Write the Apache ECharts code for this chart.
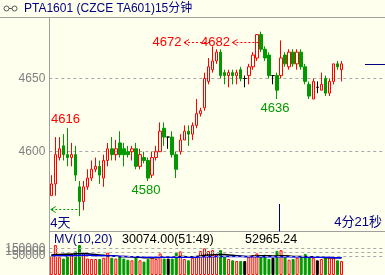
<!DOCTYPE html>
<html><head><meta charset="utf-8">
<script src="https://cdn.jsdelivr.net/npm/echarts@6/dist/echarts.min.js"></script>
<style>html,body{margin:0;padding:0;background:#FFFFEE;overflow:hidden}#c{width:385px;height:275px}</style>
</head><body><div id="c"></div>
<script>
// ---- data ----
const slotCount = 83; // 73 bars + empty space on the right
const categories = Array.from({length: slotCount}, (_, i) => String(i + 1));
const opens = [4570,4578,4596,4604,4598,4596,4598,4576,4566,4576,4582,4588,4590,4582,4594,4602,4598,4606,4602,4600,4600,4602,4590,4596,4594,4584,4596,4600,4616,4610,4610,4598,4600,4608,4614,4612,4618,4626,4630,4648,4656,4662,4668,4654,4652,4654,4652,4656,4650,4652,4658,4664,4680,4670,4666,4652,4652,4652,4666,4658,4668,4660,4668,4658,4646,4636,4644,4642,4650,4640,4648,4660,4656];
const closes = [4578,4598,4602,4598,4596,4598,4584,4566,4576,4582,4588,4590,4584,4594,4602,4598,4602,4598,4598,4598,4602,4590,4598,4594,4582,4596,4600,4614,4610,4610,4598,4588,4608,4614,4612,4618,4626,4628,4650,4658,4662,4668,4652,4652,4654,4652,4654,4650,4650,4658,4666,4680,4670,4664,4652,4652,4642,4664,4660,4668,4660,4668,4658,4648,4638,4648,4644,4646,4640,4648,4660,4658,4660];
const lows = [4570,4570,4594,4594,4590,4590,4580,4556,4560,4574,4580,4586,4578,4576,4590,4594,4594,4596,4590,4596,4594,4588,4588,4592,4580,4582,4594,4600,4604,4602,4596,4582,4598,4608,4604,4608,4616,4624,4628,4646,4654,4660,4650,4646,4644,4646,4646,4648,4644,4646,4656,4662,4668,4662,4650,4646,4636,4650,4658,4656,4658,4656,4656,4646,4636,4636,4640,4642,4638,4638,4646,4656,4648];
const highs = [4584,4610,4610,4612,4616,4606,4604,4580,4580,4588,4594,4596,4594,4598,4606,4610,4608,4614,4606,4604,4604,4606,4602,4600,4596,4600,4604,4620,4620,4610,4614,4600,4612,4618,4618,4620,4636,4630,4654,4664,4672,4670,4670,4656,4656,4656,4656,4658,4652,4660,4668,4680,4682,4672,4668,4652,4654,4676,4668,4670,4670,4670,4670,4660,4648,4650,4648,4654,4652,4650,4660,4662,4662];
const volumes = [125000,196500,116500,108000,141500,141500,155000,196500,143000,108000,
105000,105000,105000,113000,146500,113000,108000,121500,108000,100000,
96500,121500,96500,88000,105000,113000,105000,141500,108000,108000,
108000,146500,155000,105000,96500,113000,121500,158000,175000,158000,
163000,135000,163000,125000,105000,96500,91500,91500,91500,121500,
130000,141500,130000,133000,105000,113000,158000,163000,125000,100000,
105000,113000,118000,138000,121500,113000,96500,105000,113000,113000,
113000,96500,91500];
const mv10 = [131500,134000,134000,136500,136500,136500,139000,141500,141500,139000,
136500,134000,131500,129000,126500,126500,124000,121500,121500,119000,
119000,116500,116500,114000,114000,114000,114000,116500,116500,116500,
116500,119000,121500,121500,119000,119000,121500,124000,129000,131500,
131500,134000,134000,134000,131500,129000,126500,124000,121500,121500,
124000,124000,126500,126500,126500,124000,124000,126500,126500,124000,
121500,121500,121500,119000,119000,119000,116500,116500,114000,114000,
114000,114000,114000];
const mv20 = [126500,126500,126500,126500,126500,126500,126500,129000,129000,129000,
129000,126500,126500,126500,124000,124000,124000,121500,121500,121500,
119000,119000,119000,116500,116500,116500,116500,116500,116500,116500,
116500,116500,116500,116500,116500,116500,116500,119000,119000,119000,
119000,121500,121500,121500,121500,121500,121500,121500,121500,119000,
119000,119000,119000,119000,119000,119000,119000,119000,119000,119000,
119000,119000,119000,116500,116500,116500,116500,116500,116500,116500,
114000,114000,114000];
const priceTicks = [4600, 4650];
const volTicks = [50000, 100000, 150000];
const aboveHighIdx = [4];
const belowLowIdx = [24, 56];
const arrowHighIdx = [40, 52];
const arrowLowIdx = 7;
const titleText = 'PTA1601 (CZCE TA601)15分钟';
const mvText = ['MV(10,20)', '30074.00(51:49)', '52965.24'];
const dayText = '4天';
const timeText = '4分21秒';

// ---- styles ----
const RED = '#FF0000', GREEN = '#009900', BLACK = '#000000', NAVY = '#000080', GRAY = '#808080';
const FONT = '"Liberation Sans","Noto Sans CJK SC",sans-serif';
const GL = 49.3, GR = 1.2;

function styleFor(i) {
  if (closes[i] > opens[i]) return {color: 'transparent', borderColor: RED, borderWidth: 1};
  if (closes[i] < opens[i]) return {color: GREEN, borderColor: GREEN, borderWidth: 1};
  return {color: BLACK, borderColor: BLACK, color0: BLACK, borderColor0: BLACK, borderWidth: 1};
}

const candleData = opens.map((o, i) => ({value: [o, closes[i], lows[i], highs[i]], itemStyle: styleFor(i)}));
const volData = volumes.map((v, i) => ({value: v, itemStyle: styleFor(i)}));

const chart = echarts.init(document.getElementById('c'), null, {renderer: 'canvas'});
const option = {
  animation: false,
  backgroundColor: '#FFFFEE',
  grid: [
    {left: GL, right: GR, top: 5.3, height: 219.6},
    {left: GL, right: GR, top: 229.3, height: 60}
  ],
  xAxis: [
    {type: 'category', gridIndex: 0, data: categories, boundaryGap: true, show: false},
    {type: 'category', gridIndex: 1, data: categories, boundaryGap: true, show: false}
  ],
  yAxis: [
    {type: 'value', gridIndex: 0, min: 4550, max: 4700, interval: 50,
     axisLine: {show: false}, axisTick: {show: false}, splitLine: {show: false},
     axisLabel: {showMinLabel: false, showMaxLabel: false, color: GRAY, fontSize: 12, fontFamily: FONT, margin: 4,
       formatter: v => String(v)}},
    {type: 'value', gridIndex: 1, min: -200000, max: 400000, interval: 50000,
     axisLine: {show: false}, axisTick: {show: false}, splitLine: {show: false},
     axisLabel: {color: GRAY, fontSize: 12, fontFamily: FONT, margin: 4,
       formatter: v => volTicks.includes(v) ? String(v) : ''}},
    {type: 'value', gridIndex: 1, min: 0, max: 300000, show: false, splitLine: {show: false}}
  ],
  series: [
    {type: 'candlestick', xAxisIndex: 0, yAxisIndex: 0, barWidth: 3, data: candleData,
     itemStyle: {color: 'transparent', color0: GREEN, borderColor: RED, borderColor0: GREEN, borderWidth: 1},
     markLine: {silent: true, symbol: 'none', label: {show: false}, z: 0,
       lineStyle: {type: [3, 3], color: '#A8A8A8', width: 1},
       data: priceTicks.map(v => ({yAxis: v}))}},
    {type: 'line', xAxisIndex: 1, yAxisIndex: 1, data: [], symbol: 'none',
     markLine: {silent: true, symbol: 'none', label: {show: false},
       lineStyle: {type: [3, 3], color: '#A8A8A8', width: 1},
       data: volTicks.map(v => ({yAxis: v}))}},
    {type: 'bar', xAxisIndex: 1, yAxisIndex: 2, barWidth: 3, data: volData},
    {type: 'line', xAxisIndex: 1, yAxisIndex: 2, data: mv10, symbol: 'none', lineStyle: {color: BLACK, width: 1.5}},
    {type: 'line', xAxisIndex: 1, yAxisIndex: 2, data: mv20, symbol: 'none', lineStyle: {color: '#0000FF', width: 1.5}}
  ]
};
chart.setOption(option);

// ---- annotations positioned through the chart's own scales ----
const P = (i, v) => chart.convertToPixel({xAxisIndex: 0, yAxisIndex: 0}, [i, v]);
const g = [];
const txt = (x, y, text, fill, size, align) => g.push({type: 'text', x: x, y: y, z: 50,
  style: {text: text, fill: fill, font: size + 'px ' + FONT, textAlign: align || 'left', textVerticalAlign: 'middle'}});
const line = (x1, y1, x2, y2, stroke, dash, w) => g.push({type: 'line', z: 40,
  shape: {x1: x1, y1: y1, x2: x2, y2: y2}, style: {stroke: stroke, lineWidth: w || 1, lineDash: dash || null}});
const arrowHead = (pts, stroke) => g.push({type: 'polyline', z: 40, shape: {points: pts}, style: {stroke: stroke, lineWidth: 1, fill: null}});

// frame
line(0, 17.5, 385, 17.5, '#A0A0A0');
line(49.5, 17.5, 49.5, 275, '#A0A0A0');
line(49.5, 231.5, 385, 231.5, '#A0A0A0');
// title + icon
g.push({type: 'circle', shape: {cx: 6.5, cy: 8.5, r: 2.5}, style: {stroke: '#555', fill: null, lineWidth: 1}});
g.push({type: 'circle', shape: {cx: 14.5, cy: 8.5, r: 2.5}, style: {stroke: '#555', fill: null, lineWidth: 1}});
line(9, 8.5, 12, 8.5, '#555');
txt(24, 9, titleText, NAVY, 12);

// labels above highs
aboveHighIdx.forEach(i => { const p = P(i, highs[i]); txt(p[0] - 2, p[1] - 8.5, String(highs[i]), RED, 13, 'center'); });
// labels below lows
belowLowIdx.forEach(i => { const p = P(i, lows[i]); txt(p[0] - 2, p[1] + 9.5, String(lows[i]), GREEN, 13, 'center'); });
// arrow labels for highs
const rowY = Math.round(P(0, Math.max(...highs))[1] + 10) + 0.5;
arrowHighIdx.forEach(i => {
  const cx = P(i, highs[i])[0];
  line(cx - 28.5, rowY, cx - 1, rowY, RED, [2, 2]);
  arrowHead([[cx - 23.5, rowY - 3], [cx - 28.5, rowY], [cx - 23.5, rowY + 3]], RED);
  txt(cx - 31, rowY, String(highs[i]), RED, 13, 'right');
});
// low arrow to the left
{
  const p = P(arrowLowIdx, lows[arrowLowIdx]);
  const y = Math.round(p[1] - 7) + 0.5;
  line(GL + 2, y, p[0], y, GREEN, [2, 2]);
  arrowHead([[GL + 6.5, y - 3], [GL + 1.5, y], [GL + 6.5, y + 3]], GREEN);
  txt(GL + 1, y + 13.5, dayText, NAVY, 13);
}
// current price marker
{
  const last = closes.length - 1;
  const y = Math.round(P(last, closes[last])[1]) + 0.5;
  line(365, y, 385, y, NAVY);
}
line(279.5, 204, 279.5, 231.5, NAVY);
txt(382, 222.5, timeText, NAVY, 13, 'right');
// volume header
txt(54, 240, mvText[0], NAVY, 12.5);
txt(122, 240, mvText[1], BLACK, 12.5);
txt(245, 240, mvText[2], BLACK, 12.5);

chart.setOption({graphic: g});
</script></body></html>
